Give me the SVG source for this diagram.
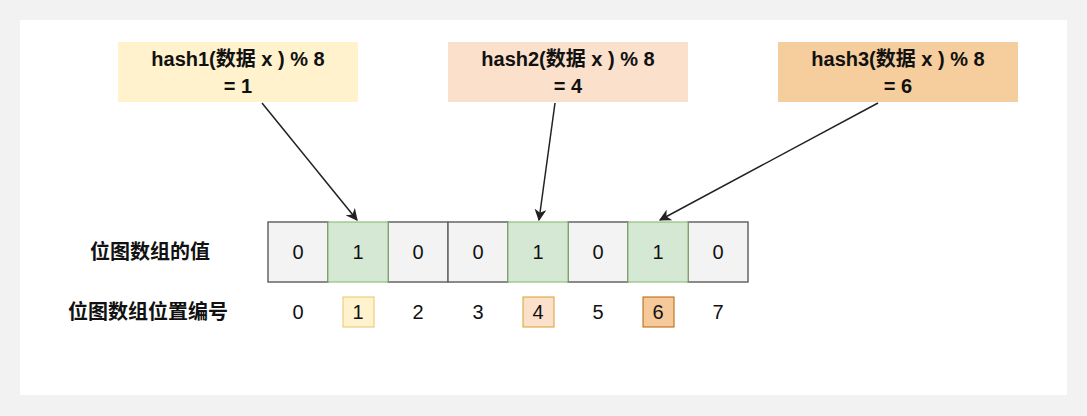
<svg xmlns="http://www.w3.org/2000/svg" width="1087" height="416" viewBox="0 0 1087 416">
<style>
text{font-family:"Liberation Sans","Noto Sans CJK SC",sans-serif;font-size:20px;fill:#111;text-anchor:middle}
.b{font-weight:bold}
.c{stroke:#666;stroke-width:1.5}
.z{fill:#f3f3f3}.o{fill:#d5e8d4;stroke:#82b366}
.ln{stroke:#222;stroke-width:1.5;fill:none;marker-end:url(#a)}
</style>
<defs><marker id="a" viewBox="0 0 10 10" refX="9" refY="5" markerWidth="8" markerHeight="8" orient="auto"><path d="M0,0L10,5L0,10L3,5z" fill="#222"/></marker></defs>
<rect width="1087" height="416" fill="#f2f2f2"/>
<rect x="20" y="20" width="1047" height="375" fill="#fff"/>
<g id="h1"><rect x="118" y="42" width="240" height="60" fill="#fff2cc"/><text class="b" x="238" y="66">hash1(数据 x ) % 8</text><text class="b" x="238" y="93">= 1</text></g>
<g id="h2"><rect x="448" y="42" width="240" height="60" fill="#fbe0cb"/><text class="b" x="568" y="66">hash2(数据 x ) % 8</text><text class="b" x="568" y="93">= 4</text></g>
<g id="h3"><rect x="778" y="42" width="240" height="60" fill="#f6cd9c"/><text class="b" x="898" y="66">hash3(数据 x ) % 8</text><text class="b" x="898" y="93">= 6</text></g>
<g id="cells">
<rect class="c z" x="268" y="222" width="60" height="60"/><text x="298" y="259">0</text>
<rect class="c z" x="388" y="222" width="60" height="60"/><text x="418" y="259">0</text>
<rect class="c z" x="448" y="222" width="60" height="60"/><text x="478" y="259">0</text>
<rect class="c z" x="568" y="222" width="60" height="60"/><text x="598" y="259">0</text>
<rect class="c z" x="688" y="222" width="60" height="60"/><text x="718" y="259">0</text>
<rect class="o" x="328" y="222" width="60" height="60"/><text x="358" y="259">1</text>
<rect class="o" x="508" y="222" width="60" height="60"/><text x="538" y="259">1</text>
<rect class="o" x="628" y="222" width="60" height="60"/><text x="658" y="259">1</text>
</g>
<g id="labels"><text class="b" x="150" y="259">位图数组的值</text><text class="b" x="148" y="319">位图数组位置编号</text></g>
<g id="idx">
<rect x="343" y="297" width="31" height="30" fill="#fff2cc" stroke="#e6c76a"/>
<rect x="523" y="297" width="31" height="30" fill="#fbe0cb" stroke="#d9a030"/>
<rect x="643" y="297" width="31" height="30" fill="#f5c99a" stroke="#b46504"/>
<text x="298" y="319">0</text><text x="358" y="319">1</text><text x="418" y="319">2</text><text x="478" y="319">3</text><text x="538" y="319">4</text><text x="598" y="319">5</text><text x="658" y="319">6</text><text x="718" y="319">7</text>
</g>
<g id="connectors">
<path class="ln" d="M262,103L357,220"/>
<path class="ln" d="M555,103L539,220"/>
<path class="ln" d="M878,103L660,220"/>
</g>
</svg>
